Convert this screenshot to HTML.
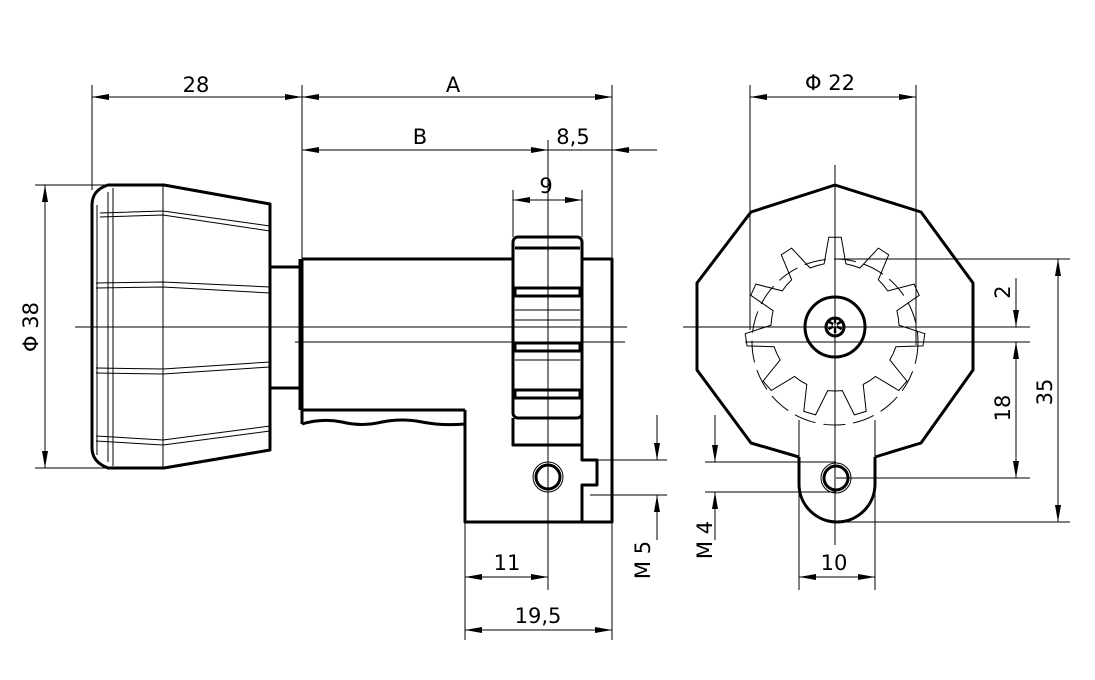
<!DOCTYPE html>
<html><head><meta charset="utf-8"><style>
html,body{margin:0;padding:0;background:#fff}
svg{display:block}
text{font-family:"DejaVu Sans","Liberation Sans",sans-serif;font-size:21px;fill:#000}
</style></head><body>
<svg id="s" width="1095" height="680" viewBox="0 0 1095 680" xmlns="http://www.w3.org/2000/svg">
<defs>
<marker id="a" markerWidth="18" markerHeight="8" refX="17" refY="4" orient="auto" markerUnits="userSpaceOnUse">
<path d="M0,1 L17,4 L0,7 z" fill="#000"/></marker>
<marker id="b" markerWidth="18" markerHeight="8" refX="1" refY="4" orient="auto" markerUnits="userSpaceOnUse">
<path d="M18,1 L1,4 L18,7 z" fill="#000"/></marker>
</defs>
<g stroke="#000" fill="none" stroke-width="1">
<line x1="92" y1="85" x2="92" y2="190"/>
<line x1="302" y1="85" x2="302" y2="260"/>
<line x1="612" y1="85" x2="612" y2="640"/>
<line x1="548" y1="140" x2="548" y2="590"/>
<line x1="513" y1="190" x2="513" y2="237"/>
<line x1="582" y1="190" x2="582" y2="237"/>
<line x1="35" y1="185" x2="110" y2="185"/>
<line x1="35" y1="468" x2="170" y2="468"/>
<line x1="465" y1="522" x2="465" y2="640"/>
<line x1="590" y1="460" x2="667" y2="460"/>
<line x1="590" y1="495" x2="667" y2="495"/>
<line x1="75" y1="327" x2="627" y2="327"/>
<line x1="295" y1="342" x2="625" y2="342"/>
<line x1="97" y1="205" x2="97" y2="455"/>
<line x1="108" y1="192" x2="108" y2="462"/>
<line x1="113" y1="188" x2="113" y2="466"/>
<line x1="163" y1="185" x2="163" y2="468"/>
<line x1="92" y1="97" x2="302" y2="97" marker-start="url(#b)" marker-end="url(#a)"/>
<line x1="302" y1="97" x2="612" y2="97" marker-start="url(#b)" marker-end="url(#a)"/>
<line x1="302" y1="150" x2="548" y2="150" marker-start="url(#b)" marker-end="url(#a)"/>
<line x1="657" y1="150" x2="612" y2="150" marker-end="url(#a)"/>
<line x1="548" y1="150" x2="612" y2="150"/>
<line x1="513" y1="200" x2="582" y2="200" marker-start="url(#b)" marker-end="url(#a)"/>
<line x1="45" y1="185" x2="45" y2="468" marker-start="url(#b)" marker-end="url(#a)"/>
<line x1="657" y1="415" x2="657" y2="460" marker-end="url(#a)"/>
<line x1="657" y1="540" x2="657" y2="495" marker-end="url(#a)"/>
<line x1="465" y1="577" x2="548" y2="577" marker-start="url(#b)" marker-end="url(#a)"/>
<line x1="465" y1="630" x2="612" y2="630" marker-start="url(#b)" marker-end="url(#a)"/>
</g>
<g stroke="#000" fill="none" stroke-width="3" stroke-linejoin="round">
<path d="M108,185 L164,185 L270,204 L270,450 L164,468 L108,468 Q92,462 92,448 L92,205 Q92,190 108,185 Z"/>
<path d="M270,267 L302,267 M270,388 L302,388"/>
<line x1="300" y1="259" x2="300" y2="410"/>
<path d="M302,259 L513,259 M302,259 L302,424 M465,410 L302,410 M465,410 L465,522 L612,522 L612,259 L582,259"/>
<path d="M302,424 Q322,418 342,422 Q362,427 382,422 Q402,418 422,422 Q442,426 465,424"/>
<path d="M513,418 L513,445 L582,445"/>
<path d="M582,259 L582,460 L597,460 L597,485 L582,485 L582,522"/>
<rect x="513" y="237" width="69" height="181" rx="5"/>
<line x1="515" y1="248" x2="580" y2="248"/>
<rect x="515" y="288" width="65" height="8"/>
<rect x="515" y="343" width="65" height="8"/>
<rect x="515" y="390" width="65" height="8"/>
<circle cx="548" cy="477" r="12"/>
</g>
<g stroke="#000" fill="none" stroke-width="1">
<circle cx="548" cy="477" r="15"/>
<path d="M100,213 L163,211 L270,226 M100,217 L163,215 L270,231"/>
<path d="M96,283 L163,282 L270,287 M96,288 L163,287 L270,293"/>
<path d="M96,368 L163,369 L270,362 M96,373 L163,374 L270,367"/>
<path d="M96,436 L163,440 L270,426 M96,441 L163,445 L270,431"/>
<line x1="515" y1="310" x2="580" y2="310"/><line x1="515" y1="320" x2="580" y2="320"/>
<line x1="515" y1="360" x2="580" y2="360"/>
</g>
<g stroke="#000" fill="none" stroke-width="1">
<line x1="750" y1="85" x2="750" y2="330"/>
<line x1="916" y1="85" x2="916" y2="345"/>
<line x1="750" y1="97" x2="916" y2="97" marker-start="url(#b)" marker-end="url(#a)"/>
<line x1="683" y1="327" x2="1030" y2="327"/>
<line x1="745" y1="342" x2="1030" y2="342"/>
<line x1="835" y1="165" x2="835" y2="545"/>
<line x1="836" y1="259" x2="1070" y2="259"/>
<line x1="836" y1="478" x2="1030" y2="478"/>
<line x1="836" y1="522" x2="1070" y2="522"/>
<line x1="1016" y1="278" x2="1016" y2="327" marker-end="url(#a)"/>
<line x1="1016" y1="342" x2="1016" y2="478" marker-start="url(#b)" marker-end="url(#a)"/>
<line x1="1058" y1="259" x2="1058" y2="522" marker-start="url(#b)" marker-end="url(#a)"/>
<line x1="705" y1="462" x2="836" y2="462"/>
<line x1="705" y1="492" x2="836" y2="492"/>
<line x1="715" y1="415" x2="715" y2="462" marker-end="url(#a)"/>
<line x1="715" y1="540" x2="715" y2="492" marker-end="url(#a)"/>
<line x1="799" y1="420" x2="799" y2="590"/>
<line x1="875" y1="420" x2="875" y2="590"/>
<line x1="799" y1="577" x2="875" y2="577" marker-start="url(#b)" marker-end="url(#a)"/>
<circle cx="835" cy="342" r="83" stroke-dasharray="22,8"/>
<path id="gear" d=""/>
<circle cx="836" cy="478" r="15"/>
</g>
<g stroke="#000" fill="none" stroke-width="3" stroke-linejoin="round">
<path d="M799,457 L751,443 L697,370 L697,283 L751,212 L835,185 L921,212 L973,283 L973,370 L921,443 L875,457"/>
<path d="M799,457 L799,484 A38,38 0 0 0 875,484 L875,457"/>
<circle cx="835" cy="327" r="30"/>
<circle cx="835" cy="327" r="9"/>
<circle cx="836" cy="478" r="12"/>
</g>
<text x="835" y="333" text-anchor="middle" font-size="12">✲</text>
<text x="196" y="92" text-anchor="middle">28</text>
<text x="453" y="92" text-anchor="middle">A</text>
<text x="420" y="144" text-anchor="middle">B</text>
<text x="573" y="144" text-anchor="middle">8,5</text>
<text x="546" y="193" text-anchor="middle">9</text>
<text x="507" y="570" text-anchor="middle">11</text>
<text x="538" y="623" text-anchor="middle">19,5</text>
<text x="834" y="570" text-anchor="middle">10</text>
<text x="830" y="90" text-anchor="middle">Φ 22</text>
<text transform="translate(38,327) rotate(-90)" text-anchor="middle">Φ 38</text>
<text transform="translate(650,560) rotate(-90)" text-anchor="middle">M 5</text>
<text transform="translate(712,540) rotate(-90)" text-anchor="middle">M 4</text>
<text transform="translate(1010,292) rotate(-90)" text-anchor="middle">2</text>
<text transform="translate(1010,408) rotate(-90)" text-anchor="middle">18</text>
<text transform="translate(1052,392) rotate(-90)" text-anchor="middle">35</text>
</svg>
<script>
(function(){var cx=835,cy=327,n=11,ro=90,ri=64,d="";
for(var i=0;i<n;i++){var t=-Math.PI/2+i*2*Math.PI/n,s=2*Math.PI/n;
var p=[[ri,t-s*0.5],[ri,t-s*0.3],[ro,t-s*0.12],[ro,t+s*0.12],[ri,t+s*0.3]];
p.forEach(function(q,j){var x=cx+q[0]*Math.cos(q[1]),y=cy+q[0]*Math.sin(q[1]);d+=(i==0&&j==0?"M":"L")+x.toFixed(1)+","+y.toFixed(1);});}
document.getElementById("gear").setAttribute("d",d+"Z");})();
</script>
</body></html>
